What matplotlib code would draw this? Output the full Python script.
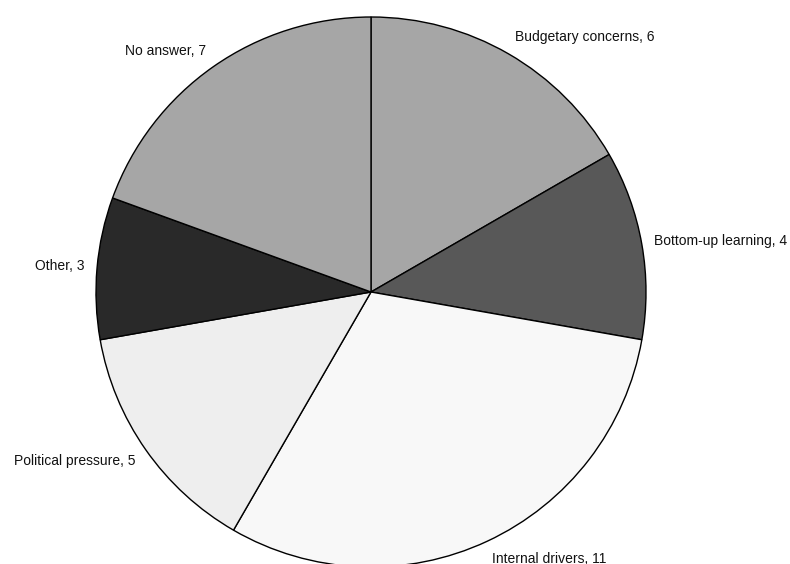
import matplotlib.pyplot as plt

plt.rcParams['font.family'] = ['Liberation Sans', 'DejaVu Sans']

FIGX = 7.9
FIGY = 5.64

## Data ---------------------------------------------

categories = ["Budgetary concerns", "Bottom-up learning", "Internal drivers",
              "Political pressure", "Other", "No answer"]
counts = [6, 4, 11, 5, 3, 7]
colors = ["#a6a6a6", "#585858", "#f8f8f8", "#eeeeee", "#292929", "#a6a6a6"]

labels = [f"{c}, {n}" for c, n in zip(categories, counts)]

## Plot ---------------------------------------------

fig = plt.figure(figsize=(FIGX, FIGY), dpi=100)
ax = fig.add_axes([0, 0, 1, 1])

wedges, texts = ax.pie(counts, labels=labels, colors=colors, startangle=90,
                       counterclock=False, labeldistance=1.0,
                       wedgeprops={"edgecolor": "black", "linewidth": 1.0},
                       textprops={"fontsize": 10, "color": "#111111"})

# labels sit a bit further out vertically than horizontally
for t in texts:
    x, y = t.get_position()
    t.set_position((x * 1.045, y * 1.07))

# centre at (371, 292) px, radius 275 px
scale = 275.0
ax.set_aspect('auto')
ax.set_xlim(-371 / scale, (790 - 371) / scale)
ax.set_ylim(-(564 - 292) / scale, 292 / scale)
ax.axis('off')

fig.savefig("out.png", dpi=100)
